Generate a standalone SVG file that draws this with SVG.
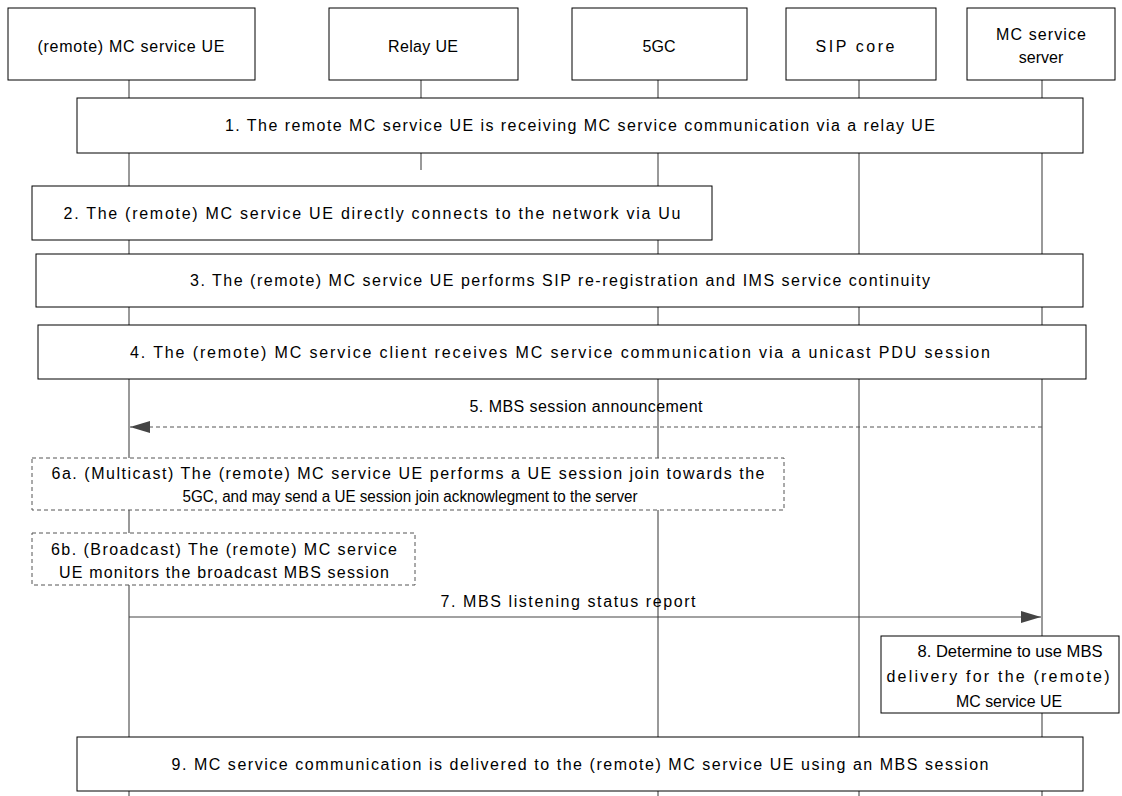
<svg xmlns="http://www.w3.org/2000/svg" width="1122" height="796" viewBox="0 0 1122 796">
<style>
.box{fill:#fff;stroke:#000;stroke-width:1}
.dbox{fill:#fff;stroke:#555;stroke-width:1;stroke-dasharray:4 3}
.life{stroke:#555;stroke-width:1.2;fill:none}
.msg{stroke:#444;stroke-width:1.2;fill:none}
.dmsg{stroke:#555;stroke-width:1;fill:none;stroke-dasharray:4 3}
text{font-family:"Liberation Sans",Arial,sans-serif;font-size:16px;fill:#000;text-anchor:middle}
</style>
<defs>
<marker id="ah" viewBox="0 0 20 12" refX="20" refY="6" markerWidth="20" markerHeight="12" markerUnits="userSpaceOnUse" orient="auto">
<path d="M0,0 L20,6 L0,12 Z" fill="#444"/>
</marker>
</defs>
<g id="lifelines">
<line class="life" x1="129" y1="80" x2="129" y2="796"/>
<line class="life" x1="421" y1="80" x2="421" y2="170"/>
<line class="life" x1="658" y1="80" x2="658" y2="796"/>
<line class="life" x1="859" y1="80" x2="859" y2="796"/>
<line class="life" x1="1042" y1="80" x2="1042" y2="796"/>
</g>
<g id="h-remote"><rect class="box" x="8" y="8" width="247" height="72"/><text x="131" y="52" textLength="187" lengthAdjust="spacing">(remote) MC service UE</text></g>
<g id="h-relay"><rect class="box" x="329" y="8" width="189" height="72"/><text x="423" y="52" textLength="70" lengthAdjust="spacing">Relay UE</text></g>
<g id="h-5gc"><rect class="box" x="572" y="8" width="175" height="72"/><text x="659" y="52">5GC</text></g>
<g id="h-sip"><rect class="box" x="786" y="8" width="150" height="72"/><text x="855" y="52" textLength="79" lengthAdjust="spacing">SIP core</text></g>
<g id="h-server"><rect class="box" x="967" y="8" width="148" height="72"/><text x="1041" y="40" textLength="90" lengthAdjust="spacing">MC service</text><text x="1041" y="63">server</text></g>
<g id="step1"><rect class="box" x="77" y="98" width="1006" height="55"/><text x="580" y="131" textLength="710" lengthAdjust="spacing">1. The remote MC service UE is receiving MC service communication via a relay UE</text></g>
<g id="step2"><rect class="box" x="32" y="186" width="680" height="54"/><text x="372" y="219" textLength="617" lengthAdjust="spacing">2. The (remote) MC service UE directly connects to the network via Uu</text></g>
<g id="step3"><rect class="box" x="36" y="254" width="1047" height="53"/><text x="560" y="286" textLength="740" lengthAdjust="spacing">3. The (remote) MC service UE performs SIP re-registration and IMS service continuity</text></g>
<g id="step4"><rect class="box" x="38" y="325" width="1048" height="54"/><text x="560" y="358" textLength="860" lengthAdjust="spacing">4. The (remote) MC service client receives MC service communication via a unicast PDU session</text></g>
<g id="connectors">
<line class="dmsg" x1="1042" y1="427" x2="130" y2="427" marker-end="url(#ah)"/>
<line class="msg" x1="129" y1="617" x2="1041" y2="617" marker-end="url(#ah)"/>
</g>
<text x="586" y="412" textLength="233" lengthAdjust="spacing">5. MBS session announcement</text>
<g id="step6a"><rect class="dbox" x="32" y="458" width="752" height="52"/><text x="408" y="479" textLength="713" lengthAdjust="spacing">6a. (Multicast) The (remote) MC service UE performs a UE session join towards the</text><text x="410" y="502" textLength="455" lengthAdjust="spacingAndGlyphs">5GC, and may send a UE session join acknowlegment to the server</text></g>
<g id="step6b"><rect class="dbox" x="32" y="533" width="383" height="52"/><text x="224" y="555" textLength="346" lengthAdjust="spacing">6b. (Broadcast) The (remote) MC service</text><text x="224" y="578" textLength="330" lengthAdjust="spacing">UE monitors the broadcast MBS session</text></g>
<text x="568" y="607" textLength="255" lengthAdjust="spacing">7. MBS listening status report</text>
<g id="step8"><rect class="box" x="881" y="636" width="238" height="77"/><text x="1010" y="657" textLength="185" lengthAdjust="spacingAndGlyphs">8. Determine to use MBS</text><text x="998" y="682" textLength="223" lengthAdjust="spacing">delivery for the (remote)</text><text x="1009" y="707" textLength="106" lengthAdjust="spacingAndGlyphs">MC service UE</text></g>
<g id="step9"><rect class="box" x="77" y="737" width="1006" height="54"/><text x="580" y="770" textLength="817" lengthAdjust="spacing">9. MC service communication is delivered to the (remote) MC service UE using an MBS session</text></g>
</svg>
